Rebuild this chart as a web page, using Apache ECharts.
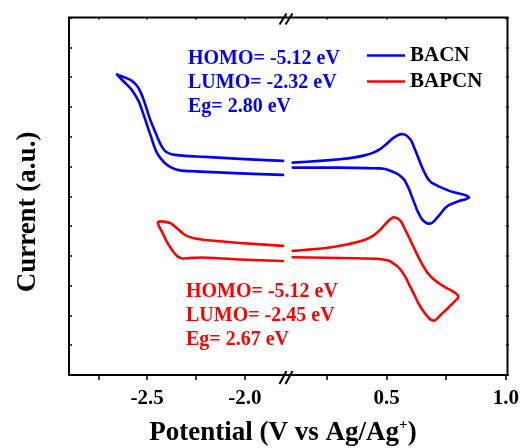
<!DOCTYPE html>
<html>
<head>
<meta charset="utf-8">
<script src="https://cdn.jsdelivr.net/npm/echarts@6/dist/echarts.min.js"></script>
<style>html,body{margin:0;padding:0;background:#fff}#c{width:522px;height:448px}</style>
</head>
<body>
<div id="c"></div>
<script>
// Potential (V vs Ag/Ag+) , current (a.u.)
var blueLeft = [
  [-1.805,7.187],[-2.025,7.254],[-2.204,7.322],[-2.307,7.355],[-2.358,7.389],[-2.388,7.439],[-2.409,7.523],
  [-2.424,7.657],[-2.440,7.859],[-2.455,8.094],[-2.470,8.329],[-2.486,8.598],[-2.501,8.900],[-2.516,9.202],
  [-2.532,9.471],[-2.552,9.706],[-2.578,9.874],[-2.608,9.975],[-2.639,10.042],[-2.654,10.092],
  [-2.634,9.941],[-2.608,9.773],[-2.583,9.605],[-2.562,9.404],[-2.542,9.169],[-2.527,8.900],[-2.511,8.598],
  [-2.496,8.296],[-2.480,7.993],[-2.465,7.691],[-2.450,7.456],[-2.429,7.254],[-2.404,7.086],[-2.373,6.952],
  [-2.332,6.868],[-2.255,6.835],[-2.025,6.767],[-1.805,6.717]
];
var blueRight = [
  [0.107,7.130],[0.221,7.187],[0.304,7.244],[0.367,7.305],[0.408,7.372],[0.442,7.456],[0.471,7.573],
  [0.499,7.748],[0.521,7.909],[0.542,8.027],[0.561,8.084],[0.575,8.077],[0.589,8.003],[0.604,7.859],
  [0.617,7.614],[0.631,7.338],[0.645,7.053],[0.658,6.818],[0.672,6.606],[0.688,6.465],[0.707,6.381],
  [0.733,6.280],[0.763,6.180],[0.792,6.113],[0.818,6.069],[0.838,6.012],[0.846,5.955],
  [0.829,5.894],[0.804,5.844],[0.763,5.710],[0.742,5.575],[0.728,5.431],[0.713,5.290],[0.700,5.172],
  [0.690,5.105],[0.679,5.081],[0.669,5.095],[0.658,5.149],[0.648,5.239],[0.638,5.374],[0.627,5.558],
  [0.617,5.767],[0.606,5.995],[0.596,6.213],[0.585,6.398],[0.575,6.549],[0.558,6.683],[0.540,6.774],
  [0.517,6.851],[0.499,6.908],[0.471,6.935],[0.443,6.942],[0.304,6.962],[0.107,6.962]
];
var redLeft = [
  [-1.805,4.333],[-2.025,4.433],[-2.204,4.534],[-2.255,4.584],[-2.291,4.652],[-2.317,4.752],[-2.337,4.870],
  [-2.358,4.987],[-2.378,5.088],[-2.404,5.139],[-2.434,5.155],[-2.445,5.122],
  [-2.440,5.004],[-2.429,4.870],[-2.414,4.668],[-2.399,4.467],[-2.383,4.299],[-2.365,4.131],[-2.347,3.997],
  [-2.332,3.936],[-2.317,3.913],[-2.296,3.919],[-2.271,3.930],[-2.220,3.946],[-2.025,3.879],[-1.805,3.829]
];
var redRight = [
  [0.107,4.165],[0.235,4.255],[0.325,4.366],[0.374,4.457],[0.413,4.551],[0.443,4.668],[0.471,4.853],
  [0.492,5.038],[0.510,5.189],[0.529,5.296],[0.546,5.256],[0.561,5.149],[0.579,4.870],[0.603,4.477],
  [0.625,4.097],[0.651,3.694],[0.671,3.442],[0.693,3.248],[0.721,3.073],[0.749,2.932],[0.771,2.838],
  [0.790,2.744],[0.801,2.630],[0.794,2.536],[0.775,2.385],[0.749,2.183],[0.729,2.032],[0.714,1.904],
  [0.700,1.824],[0.688,1.847],[0.679,1.904],[0.665,2.032],[0.651,2.183],[0.633,2.418],[0.617,2.687],
  [0.600,2.956],[0.582,3.248],[0.563,3.493],[0.547,3.637],[0.529,3.745],[0.513,3.829],[0.492,3.869],
  [0.471,3.896],[0.374,3.919],[0.107,3.953]
];
var leftTicks = [-2.75,-2.5,-2.25,-2.0];
var leftLabels = [-2.5,-2.0];
var rightTicks = [0.25,0.5,0.75,1.0];
var rightLabels = [0.5,1.0];
var blueNotes = ['HOMO= -5.12 eV','LUMO= -2.32 eV','Eg= 2.80 eV'];
var redNotes = ['HOMO= -5.12 eV','LUMO= -2.45 eV','Eg= 2.67 eV'];

var FONT = '"Liberation Serif","Times New Roman",serif';
var BLUE = '#0000ff', RED = '#ff0000';
var chart = echarts.init(document.getElementById('c'), null, {renderer:'canvas'});

function xAx(grid, min, max, ticks, labels, pos){
  var top = pos === 'top';
  return {
    type:'value', gridIndex:grid, position:pos, min:min, max:max,
    axisLine:{show:false}, splitLine:{show:false},
    axisTick:{show:true, inside:top, length: top?2:5, customValues:ticks, lineStyle:{color:'#000',width:1.5}},
    axisLabel:{show:!top, customValues:labels, margin:13, color:'#000',
      fontFamily:FONT, fontWeight:'bold', fontSize:21,
      formatter:function(v){return Number(v).toFixed(1);}}
  };
}
function yAx(grid, pos){
  return {
    type:'value', gridIndex:grid, position:pos, min:0, max:12, interval:1,
    axisLine:{show:false}, splitLine:{show:false}, axisLabel:{show:false},
    axisTick:{show:true, inside: pos==='left', length:3, lineStyle:{color:'#000',width:1.5}}
  };
}
function noteTexts(lines, x, y0, color){
  return lines.map(function(t,i){
    return {type:'text', x:x, y:y0+i*24, style:{text:t, fill:color,
      font:'bold 20px '+FONT, align:'left', verticalAlign:'middle'}};
  });
}
var graphics = [
  {type:'rect', shape:{x:69, y:17.5, width:438.5, height:357.5}, style:{fill:null, stroke:'#000', lineWidth:2}, z:100},
  {type:'line', shape:{x1:279.5, y1:24.5, x2:286.5, y2:13.5}, style:{stroke:'#000', lineWidth:2}, z:101},
  {type:'line', shape:{x1:285.5, y1:24.5, x2:292.5, y2:13.5}, style:{stroke:'#000', lineWidth:2}, z:101},
  {type:'line', shape:{x1:279.5, y1:384, x2:286.5, y2:371}, style:{stroke:'#000', lineWidth:2}, z:101},
  {type:'line', shape:{x1:285.5, y1:384, x2:292.5, y2:371}, style:{stroke:'#000', lineWidth:2}, z:101},
  {type:'text', x:28, y:212, rotation:Math.PI/2, style:{text:'Current (a.u.)', fill:'#000',
    font:'bold 27px '+FONT, align:'center', verticalAlign:'middle'}},
  {type:'text', x:283, y:433, style:{text:'Potential (V vs Ag/Ag{s|+})', fill:'#000',
    font:'bold 27px '+FONT, align:'center', verticalAlign:'middle',
    rich:{s:{fontSize:15, fontWeight:'bold', fontFamily:FONT, fill:'#000', padding:[0,0,16,0]}}}}
].concat(noteTexts(blueNotes, 188, 59, BLUE)).concat(noteTexts(redNotes, 186, 292, RED));

chart.setOption({
  animation:false,
  backgroundColor:'#fff',
  grid:[
    {left:69, right:238, top:17.5, bottom:73},
    {left:291, right:14.5, top:17.5, bottom:73}
  ],
  xAxis:[
    xAx(0,-2.9,-1.8,leftTicks,leftLabels,'bottom'),
    xAx(0,-2.9,-1.8,leftTicks,leftLabels,'top'),
    xAx(1,0.1,1.0,rightTicks,rightLabels,'bottom'),
    xAx(1,0.1,1.0,rightTicks,rightLabels,'top')
  ],
  yAxis:[yAx(0,'left'), yAx(1,'right')],
  legend:{
    data:['BACN','BAPCN'], orient:'vertical', left:362, top:40,
    icon:'rect', itemWidth:38, itemHeight:2.5, itemGap:5,
    textStyle:{color:'#000', fontFamily:FONT, fontWeight:'bold', fontSize:21, lineHeight:21}
  },
  series:[
    {name:'BACN', type:'line', xAxisIndex:0, yAxisIndex:0, data:blueLeft, color:BLUE, showSymbol:false, smooth:0.2, lineStyle:{width:2.6, join:'round', cap:'round'}},
    {name:'BACN', type:'line', xAxisIndex:2, yAxisIndex:1, data:blueRight, color:BLUE, showSymbol:false, smooth:0.2, lineStyle:{width:2.6, join:'round', cap:'round'}},
    {name:'BAPCN', type:'line', xAxisIndex:0, yAxisIndex:0, data:redLeft, color:RED, showSymbol:false, smooth:0.2, lineStyle:{width:2.6, join:'round', cap:'round'}},
    {name:'BAPCN', type:'line', xAxisIndex:2, yAxisIndex:1, data:redRight, color:RED, showSymbol:false, smooth:0.2, lineStyle:{width:2.6, join:'round', cap:'round'}}
  ],
  graphic:graphics
});
</script>
</body>
</html>
